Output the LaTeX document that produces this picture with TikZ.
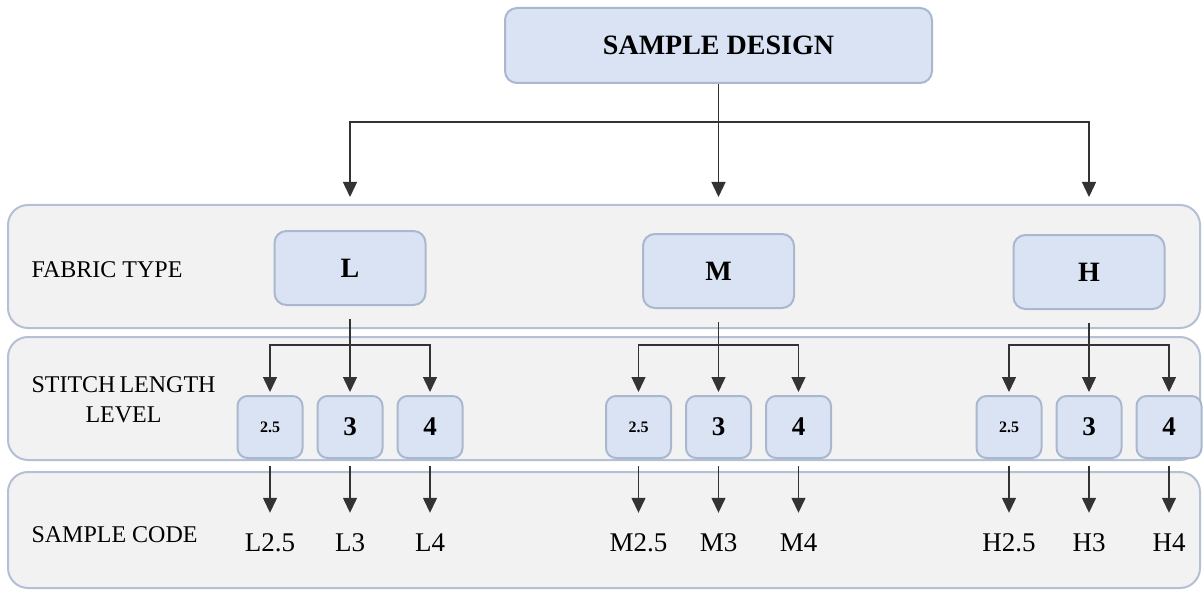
\documentclass[tikz,border=0pt]{standalone}
\usepackage{fontspec}
\setmainfont{Liberation Serif}
\usetikzlibrary{positioning,arrows.meta}

\definecolor{bandfill}{HTML}{F2F2F2}
\definecolor{bandline}{HTML}{B4C0D3}
\definecolor{boxfill}{HTML}{DAE3F3}
\definecolor{boxline}{HTML}{A9B8CF}
\definecolor{linkline}{HTML}{333333}

\begin{document}
\begin{tikzpicture}[x=1pt,y=-1pt,
  band/.style={rectangle,rounded corners=20pt,draw=bandline,fill=bandfill,line width=2pt,minimum width=1192pt},
  designbox/.style={rectangle,rounded corners=12pt,draw=boxline,fill=boxfill,line width=2pt,minimum width=427pt,minimum height=75pt,font=\fontsize{28}{32}\selectfont\bfseries},
  fabricbox/.style={rectangle,rounded corners=12pt,draw=boxline,fill=boxfill,line width=2pt,minimum width=151pt,minimum height=74pt,font=\fontsize{28}{32}\selectfont\bfseries},
  stitchbox/.style={rectangle,rounded corners=10pt,draw=boxline,fill=boxfill,line width=2pt,minimum width=65pt,minimum height=62pt,font=\fontsize{27}{30}\selectfont\bfseries},
  smallnum/.style={font=\fontsize{16}{18}\selectfont\bfseries},
  rowlabel/.style={anchor=west,align=center,font=\fontsize{24}{30}\selectfont},
  codetext/.style={font=\fontsize{27}{30}\selectfont,text height=18pt,text depth=0pt,inner ysep=0pt},
  link/.style={draw=linkline,line width=1.4pt,-{Triangle[width=14pt,length=15pt]}},
  plainline/.style={draw=linkline,line width=1.4pt}]

  \useasboundingbox (0,0) rectangle (1203,591);
  \clip (0,0) rectangle (1203,591);

  % rows
  \node[band,minimum height=123pt] (fabricband) at (604,266.5) {};
  \node[band,minimum height=123pt] (stitchband) at (604,398.5) {};
  \node[band,minimum height=116pt] (codeband) at (604,530) {};

  \node[rowlabel] (fabriclabel) at (28,270) {FABRIC TYPE};
  \node[rowlabel] (stitchlabel) at (28,400) {STITCH\,LENGTH\\LEVEL};
  \node[rowlabel] (codelabel) at (28,535) {SAMPLE CODE};

  % top
  \node[designbox] (design) at (718.5,45.5) {SAMPLE DESIGN};

  % fabric types
  \node[fabricbox] (fabricL) at (350,268) {L};
  \node[fabricbox] (fabricM) at (718.5,271) {M};
  \node[fabricbox] (fabricH) at (1089,272) {H};

  \coordinate (designsplit) at (design |- 0,122);
  \draw[plainline] (design.south) -- (designsplit);
  \draw[link] (designsplit) -| (fabricL |- 0,197);
  \draw[link] (designsplit) -- (fabricM |- 0,197);
  \draw[link] (designsplit) -| (fabricH |- 0,197);

  % stitch lengths
  \foreach \f/\x in {L/350,M/718.5,H/1089}{
    \node[stitchbox] (\f3) at (\x,427) {3};
    \node[stitchbox,smallnum,left=13pt of \f3] (\f25) {2.5};
    \node[stitchbox,right=13pt of \f3] (\f4) {4};
    \coordinate (\f split) at (\x,345);
    \draw[link,shorten <=13pt,shorten >=3pt] (fabric\f.south) -- (\f3.north);
    \draw[link,shorten >=3pt] (\f split) -| (\f25.north);
    \draw[link,shorten >=3pt] (\f split) -| (\f4.north);
  }

  % sample codes
  \foreach \f in {L,M,H}{
    \node[codetext] (code\f25) at (\f25 |- 0,542) {\f2.5};
    \node[codetext] (code\f3) at (\f3 |- 0,542) {\f3};
    \node[codetext] (code\f4) at (\f4 |- 0,542) {\f4};
    \foreach \s in {25,3,4}{
      \draw[link,shorten <=7pt,shorten >=20pt] (\f\s.south) -- (code\f\s.north);
    }
  }
\end{tikzpicture}
\end{document}
